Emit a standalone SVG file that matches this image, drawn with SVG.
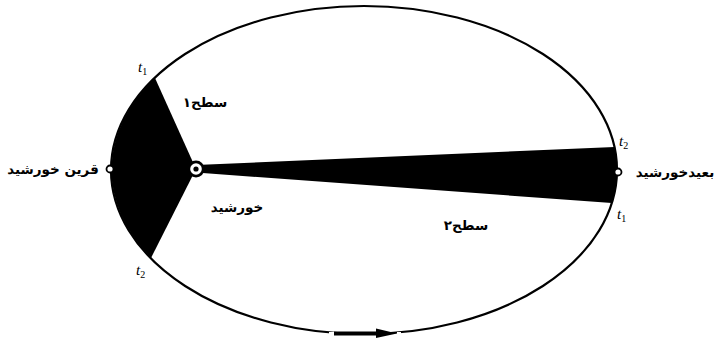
<svg xmlns="http://www.w3.org/2000/svg" width="717" height="339" viewBox="0 0 717 339">
<style>
.fa{font-family:"DejaVu Sans",sans-serif;font-weight:bold;font-size:13.5px;fill:#000;text-anchor:middle;direction:rtl}
.t{font-family:"Liberation Serif",serif;font-style:italic;font-size:15px;fill:#000}
.t .s{font-size:10px;font-style:normal;fill:#000}
</style>
<rect width="717" height="339" fill="#fff"/>
<g id="areas">
<path id="area1" d="M196,169 L155,78 A253,164 0 0 0 151,258 Z" fill="#000"/>
<path id="area2" d="M196,165 L614.5,147 A253,164 0 0 1 611.8,203 L196,172.5 Z" fill="#000"/>
</g>
<g id="orbit">
<ellipse cx="364" cy="170" rx="253" ry="164" fill="none" stroke="#000" stroke-width="2.2"/>
</g>
<g id="connectors">
<line x1="329" y1="334" x2="334" y2="334" stroke="#fff" stroke-width="4"/>
<line x1="397" y1="334" x2="401" y2="334" stroke="#fff" stroke-width="4"/>
<line x1="334" y1="333.5" x2="382" y2="333.5" stroke="#000" stroke-width="4"/>
<polygon points="376,328.5 397,333.5 376,338" fill="#000"/>
</g>
<g id="sun">
<circle cx="196" cy="169" r="8.5" fill="#000"/>
<circle cx="196" cy="169" r="5.8" fill="#fff"/>
<circle cx="196" cy="169" r="2.6" fill="#000"/>
<text class="fa" x="237" y="212">خورشید</text>
</g>
<g id="perihelion">
<circle cx="110" cy="169" r="3.5" fill="#fff" stroke="#000" stroke-width="1.8"/>
<text class="fa" x="53" y="174">قرین خورشید</text>
</g>
<g id="aphelion">
<circle cx="618" cy="172" r="3.5" fill="#fff" stroke="#000" stroke-width="1.8"/>
<text class="fa" x="675" y="177">بعیدخورشید</text>
</g>
<g id="labels">
<text class="fa" x="205" y="107">سطح۱</text>
<text class="fa" x="466" y="230">سطح۲</text>
<text class="t" x="138" y="72">t<tspan class="s" dy="3">1</tspan></text>
<text class="t" x="136" y="275">t<tspan class="s" dy="3">2</tspan></text>
<text class="t" x="619" y="146">t<tspan class="s" dy="3">2</tspan></text>
<text class="t" x="617" y="219">t<tspan class="s" dy="3">1</tspan></text>
</g>
</svg>
